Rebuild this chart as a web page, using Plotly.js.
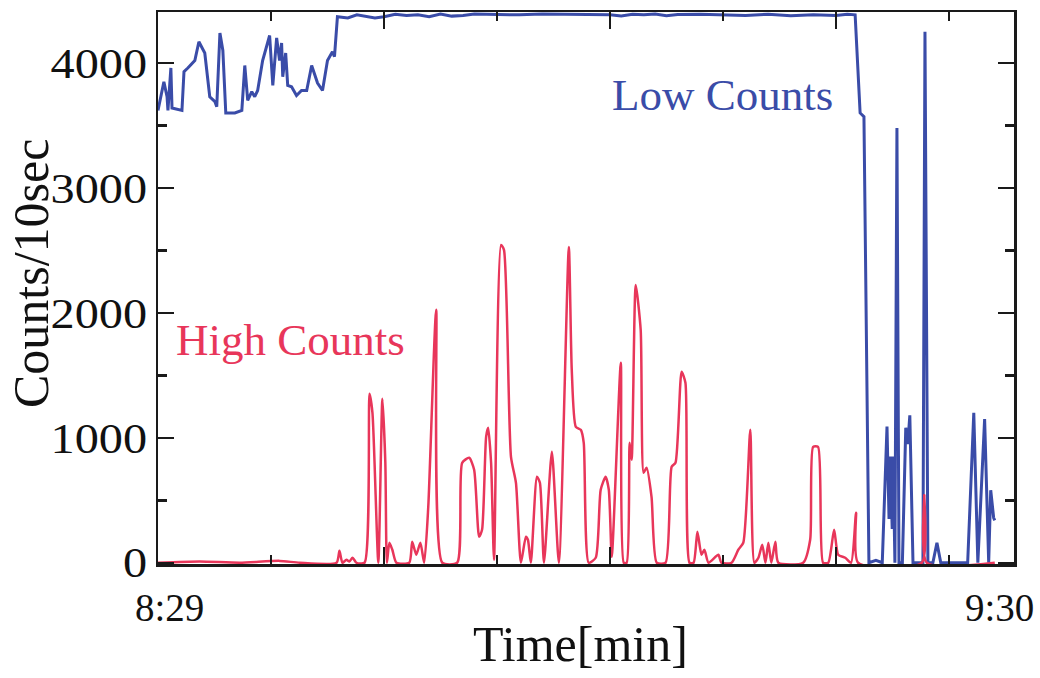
<!DOCTYPE html>
<html>
<head>
<meta charset="utf-8">
<script src="https://cdn.plot.ly/plotly-3.0.1.min.js"></script>
<style>
  html, body { margin: 0; padding: 0; background: #ffffff; }
  #chart { width: 1040px; height: 678px; }
</style>
</head>
<body>
<div id="chart"></div>
<script>
// x = 10-second sample index starting at 8:29
const lowX = [0, 2.6, 4.0, 4.4, 5.7, 6.2, 10.6, 11.5, 13.2, 15.0, 16.3, 18.1, 20.7, 22.9, 25.2, 26.0, 27.4, 28.7, 30.0, 34.0, 37.1, 38.4, 39.7, 41.5, 42.8, 44.1, 46.3, 49.4, 50.8, 52.5, 53.8, 54.7, 55.2, 56.5, 57.4, 59.1, 61.3, 63.5, 65.8, 68.0, 70.6, 72.8, 75.0, 77.2, 78.1, 79.4,
  84, 88, 92, 96, 100, 105, 110, 115, 120, 125, 130, 135, 140, 150, 160, 170, 180, 190, 200, 205, 210, 215, 220, 225, 230, 240, 250, 260, 270, 280, 290, 300, 305, 308.5,
  310.7, 312.4, 314.6, 317.7, 320.5, 322.6, 323.5, 324.0, 324.9, 325.3, 326.1, 327.0, 327.9, 329.4, 330.9, 331.8, 332.7, 334.1, 338.5, 339.4, 340.7, 342.9, 344.7, 346.4, 358.3, 361.0, 362.8, 365.8, 367.6, 368.5, 369.8, 370.3];
const lowY = [3620, 3850, 3730, 3620, 3960, 3640, 3620, 3930, 3960, 4000, 4020, 4170, 4080, 3730, 3690, 3650, 4240, 4100, 3600, 3600, 3620, 3980, 3700, 3770, 3730, 3780, 4020, 4220, 3820, 4200, 4020, 4160, 3890, 4080, 3820, 3810, 3740, 3780, 3780, 3980, 3840, 3780, 4020, 4090, 4050, 4370,
  4360, 4385, 4375, 4360, 4370, 4390, 4380, 4385, 4370, 4392, 4375, 4380, 4392, 4390, 4385, 4392, 4388, 4390, 4386, 4376, 4390, 4385, 4392, 4378, 4388, 4390, 4384, 4380, 4390, 4378, 4386, 4380, 4390, 4385,
  3600, 3570, 0, 20, 0, 1090, 350, 850, 270, 850, 0, 3480, 0, 0, 1080, 950, 1180, 0, 0, 4250, 0, 0, 160, 0, 0, 1200, 0, 1150, 0, 580, 360, 340];

const highX = [0, 18.5, 36.2, 53.8, 62.7, 79.0, 80.3, 81.6, 83.4, 84.7, 86.1, 87.8, 91.4, 93.6, 94.9, 97.5, 99.3, 100.6, 101.3, 102.4, 103.7, 105.5, 111.2, 112.5, 114.3, 116.1, 117.8, 119.6, 123.1, 125.8, 132.4, 134.6, 137.7, 139.9, 142.1, 143.4, 145.2, 146.1, 147.4, 148.7, 151.8, 153.1, 156.2, 158.4, 160.6, 162.8, 163.7, 165.0, 167.7, 169.0, 170.8, 174.3, 177.4, 181.8, 183.1, 184.9, 187.1, 188.4, 190.6, 193.7, 195.9, 198.1, 199.5, 200.8, 204.8, 206.1, 207.4, 208.7, 209.6, 211.4, 213.6, 214.9, 216.2, 218.4, 220.7, 224.6, 227.3, 229.0, 231.7, 233.4, 235.2, 237.0, 238.7, 240.5, 241.8, 243.6, 248.0, 249.3, 253.8, 256.8, 259.0, 262.1, 263.9, 265.7, 267.4, 268.8, 270.1, 271.4, 273.2, 274.5, 285.5, 288.6, 289.9, 292.1, 294.3, 296.6, 299.2, 301.0, 304.1, 306.7, 308.9, 309.8, 338.0, 339.1, 340.2, 370.3];
const highY = [0, 10, 0, 15, 0, 0, 96, 0, 24, 10, 40, 0, 0, 1352, 1200, 0, 1312, 800, 0, 160, 104, 0, 0, 168, 64, 160, 0, 448, 2024, 0, 0, 800, 840, 744, 208, 264, 1008, 1080, 800, 24, 2544, 2504, 848, 640, 0, 208, 184, 0, 688, 640, 0, 888, 0, 2528, 1544, 1088, 1064, 960, 0, 40, 584, 688, 584, 48, 1600, 0, 0, 960, 824, 2224, 1864, 720, 760, 528, 0, 0, 768, 800, 1528, 1440, 0, 0, 248, 64, 104, 0, 64, 0, 0, 104, 160, 1064, 0, 40, 144, 0, 160, 0, 168, 0, 0, 184, 928, 928, 0, 0, 264, 64, 40, 0, 400, 0, 0, 540, 0, 0];

const yMajor = [0, 1000, 2000, 3000, 4000];
const yLabels = ["0", "1000", "2000", "3000", "4000"];
const xMajor = [100, 200, 300];
const timeLabels = ["8:29", "9:30"];
const timeLabelPos = [5.3, 372.6];
const seriesNames = ["Low Counts", "High Counts"];
const axisTitles = { x: "Time[min]", y: "Counts/10sec" };

const blue = "#3a4ca8";
const red = "#e8365a";
const serif = "Liberation Serif, Times New Roman, serif";

const traces = [
  { x: lowX, y: lowY, type: "scatter", mode: "lines", name: seriesNames[0],
    line: { color: blue, width: 3 }, hoverinfo: "skip" },
  { x: highX, y: highY, type: "scatter", mode: "lines", name: seriesNames[1],
    line: { color: red, width: 2.5, shape: "spline", smoothing: 0.6 }, hoverinfo: "skip" }
];

const annotations = [
  { text: seriesNames[0], x: 250, y: 3745, xref: "x", yref: "y", showarrow: false,
    font: { family: serif, size: 45, color: blue }, xanchor: "center", yanchor: "middle" },
  { text: seriesNames[1], x: 58.5, y: 1780, xref: "x", yref: "y", showarrow: false,
    font: { family: serif, size: 45, color: red }, xanchor: "center", yanchor: "middle" },
  { text: axisTitles.x, x: 580, y: 644, xref: "paper", yref: "paper", showarrow: false,
    font: { family: serif, size: 50, color: "#111" }, xanchor: "center", yanchor: "middle" },
  { text: axisTitles.y, x: 31, y: 274, xref: "paper", yref: "paper", showarrow: false, textangle: -90,
    font: { family: serif, size: 50, color: "#111" }, xanchor: "center", yanchor: "middle" }
];
timeLabels.forEach((t, i) => {
  annotations.push({ text: t, x: timeLabelPos[i], y: -0.078, xref: "x", yref: "paper",
    showarrow: false, font: { family: serif, size: 39, color: "#111" },
    xanchor: "center", yanchor: "middle" });
});

const layout = {
  width: 1040, height: 678,
  margin: { l: 158, r: 26, t: 12, b: 114 },
  paper_bgcolor: "#ffffff", plot_bgcolor: "#ffffff",
  showlegend: false,
  font: { family: serif, color: "#111" },
  xaxis: {
    range: [0, 378.8], showgrid: false, zeroline: false,
    showline: true, linecolor: "#1a1a1a", linewidth: 2.5, mirror: "ticks",
    tickvals: xMajor, ticks: "inside", ticklen: 17, tickwidth: 2.5, tickcolor: "#1a1a1a",
    showticklabels: false,
    minor: { dtick: 50, tick0: 0, ticks: "inside", ticklen: 9, tickwidth: 2.5, tickcolor: "#1a1a1a" }
  },
  yaxis: {
    range: [-10, 4408], showgrid: false, zeroline: false,
    showline: true, linecolor: "#1a1a1a", linewidth: 2.5, mirror: "ticks",
    tickvals: yMajor, ticktext: yLabels, ticks: "inside", ticklen: 16, tickwidth: 2.5, tickcolor: "#1a1a1a",
    tickfont: { family: serif, size: 42, color: "#111" },
    minor: { dtick: 500, tick0: 0, ticks: "inside", ticklen: 9, tickwidth: 2.5, tickcolor: "#1a1a1a" }
  },
  annotations: annotations
};

// the two axis-title annotations are positioned in pixels above; convert to paper units
const plotW = 1040 - 158 - 26, plotH = 678 - 12 - 114;
annotations[2].x = (annotations[2].x - 158) / plotW;
annotations[2].y = (678 - 114 - annotations[2].y) / plotH;
annotations[3].x = (annotations[3].x - 158) / plotW;
annotations[3].y = (678 - 114 - annotations[3].y) / plotH;

Plotly.newPlot("chart", traces, layout, { staticPlot: true, displayModeBar: false }).then(() => {
  // widen the y tick numerals horizontally, anchored at their right edge
  document.querySelectorAll("#chart .ytick text").forEach(el => {
    const x = parseFloat(el.getAttribute("x")) || 0;
    const y = parseFloat(el.getAttribute("y")) || 0;
    const tr = el.getAttribute("transform") || "";
    el.setAttribute("transform", tr + ` translate(${x},${y}) scale(1.15,1) translate(${-x},${-y})`);
  });
});
</script>
</body>
</html>
